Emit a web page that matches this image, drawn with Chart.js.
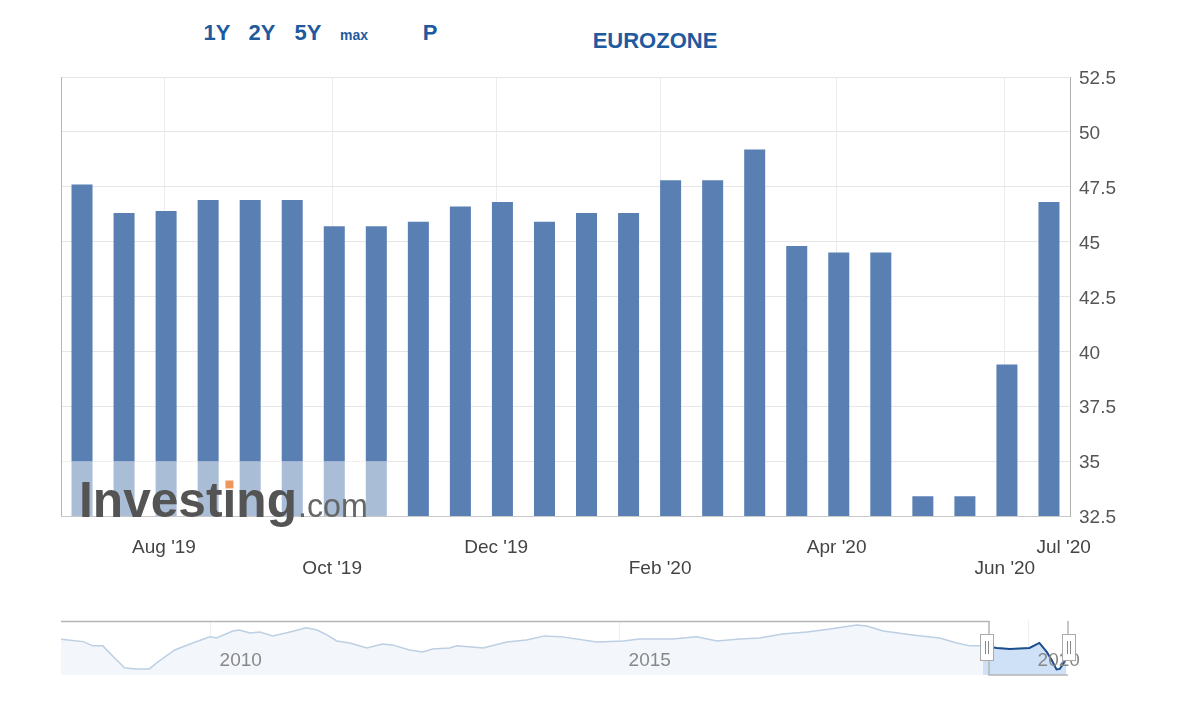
<!DOCTYPE html>
<html>
<head>
<meta charset="utf-8">
<script src="https://cdn.jsdelivr.net/npm/chart.js@4.4.1/dist/chart.umd.min.js"></script>
<style>
  html, body { margin: 0; padding: 0; background: #fff; }
  body { width: 1200px; height: 720px; position: relative; overflow: hidden; font-family: "Liberation Sans", Arial, sans-serif; }
  .hdr { position: absolute; transform: translate(-50%, -50%); color: #1f5a9e; font-weight: bold; font-size: 22px; white-space: nowrap; }
  .hdr.small { font-size: 14px; }
  #main { position: absolute; left: 0; top: 0; }
  #nav { position: absolute; left: 0; top: 600px; }
</style>
</head>
<body>
<div class="hdr" style="left:217px;top:33px">1Y</div>
<div class="hdr" style="left:262px;top:33px">2Y</div>
<div class="hdr" style="left:308px;top:33px">5Y</div>
<div class="hdr small" style="left:354px;top:35px">max</div>
<div class="hdr" style="left:430px;top:33px">P</div>
<div class="hdr" style="left:655px;top:41px">EUROZONE</div>
<canvas id="main" width="1200" height="600"></canvas>
<canvas id="nav" width="1200" height="100"></canvas>
<script>
// PMI readings (flash + final releases), oldest first
const barValues = [47.6, 46.3, 46.4, 46.9, 46.9, 46.9, 45.7, 45.7, 45.9, 46.6, 46.8, 45.9,
                   46.3, 46.3, 47.8, 47.8, 49.2, 44.8, 44.5, 44.5, 33.4, 33.4, 39.4, 46.8];

// month ticks, expressed in bar-index units
const xTickLabels = ["Aug '19", "Oct '19", "Dec '19", "Feb '20", "Apr '20", "Jun '20", "Jul '20"];
const xTickPos = [1.95, 5.95, 9.85, 13.75, 17.95, 21.95, 23.35];

const yMin = 32.5;
const yMax = 52.5;
const yStep = 2.5;

// navigator history (decimal year, value)
const navYears = [2008.17, 2008.44, 2008.56, 2008.68, 2008.85, 2008.95, 2009.10, 2009.25, 2009.34, 2009.56,
                  2009.78, 2009.99, 2010.07, 2010.27, 2010.35, 2010.48, 2010.60, 2010.76, 2010.97, 2011.17,
                  2011.30, 2011.42, 2011.54, 2011.70, 2011.91, 2012.10, 2012.22, 2012.43, 2012.59, 2012.71,
                  2012.92, 2013.01, 2013.33, 2013.62, 2013.86, 2014.08, 2014.30, 2014.72, 2015.04, 2015.24,
                  2015.65, 2015.94, 2016.19, 2016.47, 2016.71, 2016.99, 2017.29, 2017.57, 2017.90, 2018.02,
                  2018.22, 2018.58, 2018.91, 2019.12, 2019.28, 2019.44, 2019.61, 2019.77, 2020.01, 2020.13,
                  2020.22, 2020.28, 2020.34, 2020.38, 2020.42, 2020.46];
const navValues = [51.9, 50.4, 47.8, 47.8, 39.2, 34.3, 33.7, 33.7, 37.4, 45.3,
                   49.6, 53.3, 52.6, 56.9, 57.5, 55.7, 56.3, 53.9, 56.3, 58.8,
                   57.5, 54.5, 50.8, 49.6, 46.5, 49.0, 48.4, 45.3, 44.1, 45.9,
                   46.5, 47.8, 46.5, 50.2, 51.4, 53.9, 53.3, 50.2, 50.8, 52.0,
                   52.0, 53.3, 50.8, 52.0, 52.6, 55.1, 56.3, 58.1, 60.6, 60.0,
                   56.9, 54.5, 52.6, 49.6, 47.8, 47.8, 46.5, 45.9, 46.5, 49.6,
                   44.1, 39.2, 33.4, 33.7, 36.8, 40.4];
const navYearTicks = [2010, 2015, 2020];
const navSelStart = 2019.4;

const FONT = '"Liberation Sans", Arial, sans-serif';

const mainDecor = {
  id: 'mainDecor',
  afterDatasetsDraw(chart) {
    const { ctx, chartArea: a } = chart;
    ctx.save();
    // watermark box
    const top = chart.scales.y.getPixelForValue(35);
    ctx.fillStyle = 'rgba(255,255,255,0.48)';
    ctx.fillRect(a.left, top, 327, a.bottom - top);

    const base = 517;
    const x0 = 79;
    ctx.textBaseline = 'alphabetic';
    ctx.textAlign = 'left';
    ctx.font = 'bold 48px ' + FONT;
    let size = 48 * 218 / ctx.measureText('Investing').width;
    ctx.font = 'bold ' + size + 'px ' + FONT;
    ctx.fillStyle = '#545454';
    ctx.fillText('Investing', x0, base);
    const wMain = ctx.measureText('Investing').width;
    const xi = x0 + ctx.measureText('Invest').width;
    ctx.fillStyle = '#f0965a';
    ctx.fillRect(xi + size * 0.06, base - size * 0.735, size * 0.16, size * 0.16);

    ctx.font = '30px ' + FONT;
    const s2 = 30 * 70 / ctx.measureText('.com').width;
    ctx.font = s2 + 'px ' + FONT;
    ctx.fillStyle = '#666';
    ctx.fillText('.com', x0 + wMain + 1, base);

    // left frame line
    ctx.strokeStyle = '#b5b5b5';
    ctx.lineWidth = 1;
    ctx.beginPath();
    ctx.moveTo(a.left + 0.5, a.top);
    ctx.lineTo(a.left + 0.5, a.bottom);
    ctx.stroke();
    ctx.restore();
  }
};

new Chart(document.getElementById('main'), {
  type: 'bar',
  data: {
    datasets: [{
      data: barValues.map((v, i) => ({ x: i, y: v })),
      backgroundColor: '#5a80b3',
      borderWidth: 0,
      barPercentage: 0.5,
      categoryPercentage: 1.0
    }]
  },
  options: {
    responsive: false,
    animation: false,
    layout: { padding: { left: 61, top: 77, right: 0, bottom: 0 } },
    plugins: { legend: { display: false }, tooltip: { enabled: false } },
    scales: {
      x: {
        type: 'linear',
        min: -0.5,
        max: 23.5,
        offset: false,
        afterBuildTicks: (scale) => { scale.ticks = xTickPos.map(v => ({ value: v })); },
        afterFit: (scale) => { scale.height = 84; },
        grid: {
          offset: false,
          color: (c) => (c.index === xTickPos.length - 1 ? 'rgba(0,0,0,0)' : '#ececec'),
          drawTicks: false
        },
        border: { color: '#c8c8c8' },
        ticks: {
          autoSkip: false,
          maxRotation: 0,
          minRotation: 0,
          padding: 21,
          color: '#444',
          font: { size: 19, family: FONT, lineHeight: 1.1 },
          callback: (v, i) => (i % 2 === 0 ? [xTickLabels[i], ''] : ['', xTickLabels[i]])
        }
      },
      y: {
        position: 'right',
        min: yMin,
        max: yMax,
        afterFit: (scale) => { scale.width = 130; },
        grid: { color: '#e6e6e6', drawTicks: false },
        border: { color: '#b0b0b0' },
        ticks: {
          stepSize: yStep,
          padding: 9,
          labelOffset: 2,
          color: '#555',
          font: { size: 19, family: FONT },
          callback: (v) => String(v)
        }
      }
    }
  },
  plugins: [mainDecor]
});

const navDecor = {
  id: 'navDecor',
  afterDraw(chart) {
    const { ctx, chartArea: a, scales } = chart;
    const selX = 989;
    ctx.save();
    // year labels
    ctx.fillStyle = '#888';
    ctx.font = '19px ' + FONT;
    ctx.textAlign = 'center';
    ctx.textBaseline = 'middle';
    navYearTicks.forEach(y => {
      ctx.fillText(String(y), scales.x.getPixelForValue(y) + 30, 61);
    });
    // outline
    ctx.strokeStyle = '#b5b5b5';
    ctx.lineWidth = 1.5;
    ctx.beginPath();
    ctx.moveTo(a.left, a.top + 0.5);
    ctx.lineTo(selX, a.top + 0.5);
    ctx.lineTo(selX, a.bottom);
    ctx.lineTo(a.right, a.bottom);
    ctx.moveTo(a.right, a.top);
    ctx.lineTo(a.right, 34);
    ctx.stroke();
    // handles
    [selX - 2, a.right + 1].forEach(cx => {
      ctx.fillStyle = '#fff';
      ctx.strokeStyle = '#aaa';
      ctx.lineWidth = 1;
      ctx.fillRect(cx - 7, 34, 14, 27);
      ctx.strokeRect(cx - 6.5, 34.5, 13, 26);
      ctx.strokeStyle = '#888';
      ctx.beginPath();
      ctx.moveTo(cx - 1.5, 41); ctx.lineTo(cx - 1.5, 54);
      ctx.moveTo(cx + 1.5, 41); ctx.lineTo(cx + 1.5, 54);
      ctx.stroke();
    });
    ctx.restore();
  }
};

const navPoints = navYears.map((y, i) => ({ x: y, y: navValues[i] }));
new Chart(document.getElementById('nav'), {
  type: 'line',
  data: {
    datasets: [{
      data: navPoints,
      order: 2,
      borderColor: '#bdcfe2',
      borderWidth: 1.5,
      backgroundColor: '#f3f7fc',
      fill: 'start',
      pointRadius: 0,
      tension: 0
    }, {
      data: navPoints.filter(p => p.x >= navSelStart),
      order: 1,
      borderColor: '#1d4e8c',
      borderWidth: 2,
      backgroundColor: '#cfe1f6',
      fill: 'start',
      pointRadius: 0,
      tension: 0
    }]
  },
  options: {
    responsive: false,
    animation: false,
    layout: { padding: { left: 61, top: 21, right: 132, bottom: 0 } },
    plugins: { legend: { display: false }, tooltip: { enabled: false } },
    scales: {
      x: {
        type: 'linear',
        min: 2008.17,
        max: 2020.48,
        afterBuildTicks: (scale) => { scale.ticks = navYearTicks.map(v => ({ value: v })); },
        afterFit: (scale) => { scale.height = 25; },
        grid: { color: '#eeeeee', drawTicks: false },
        border: { display: false },
        ticks: { display: false }
      },
      y: { display: false, min: 30, max: 63 }
    }
  },
  plugins: [navDecor]
});
</script>
</body>
</html>
